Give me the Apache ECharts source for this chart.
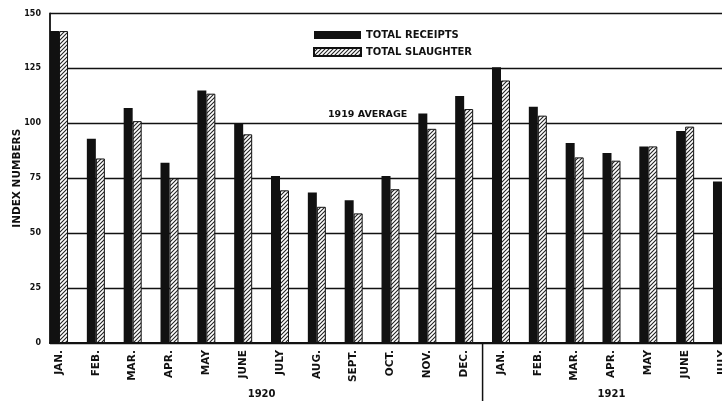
<!DOCTYPE html>
<html><head><meta charset="utf-8">
<script src="https://cdn.jsdelivr.net/npm/echarts@6/dist/echarts.min.js"></script>
<style>html,body{margin:0;padding:0;background:#fff}#c{width:722px;height:401px}</style>
</head><body><div id="c"></div>
<script>
const months = ['JAN.','FEB.','MAR.','APR.','MAY','JUNE','JULY','AUG.','SEPT.','OCT.','NOV.','DEC.','JAN.','FEB.','MAR.','APR.','MAY','JUNE','JULY'];
const years = ['1920','1921'];
const yearSpans = [[0,11],[12,18]];
const receipts = [142,93,107,82,115,100,76,68.5,65,76,104.5,112.5,125.5,107.5,91,86.5,89.5,96.5,73.5];
const slaughter = [142,84,101,75,113.5,95,69.5,62,59,70,97.5,106.5,119.5,103.5,84.5,83,89.5,98.5,null];
const yTicks = [0,25,50,75,100,125,150];
const averageValue = 100;
const averageLabel = '1919 AVERAGE';
const averageSpan = [8,9];

const FONT = 'DejaVu Sans';
const INK = '#111';

const pc = document.createElement('canvas'); pc.width = 4; pc.height = 4;
const g = pc.getContext('2d');
g.fillStyle = '#fff'; g.fillRect(0,0,4,4);
g.strokeStyle = '#222'; g.lineWidth = 1.1;
g.beginPath();
g.moveTo(0,4); g.lineTo(4,0);
g.moveTo(-1,1); g.lineTo(1,-1);
g.moveTo(3,5); g.lineTo(5,3);
g.stroke();

const chart = echarts.init(document.getElementById('c'), null, {renderer:'canvas'});
const yMin = yTicks[0], yMax = yTicks[yTicks.length-1], yInt = yTicks[1]-yTicks[0];
chart.setOption({
  animation:false,
  backgroundColor:'#fff',
  grid:[
    {left:50, top:13.5, width:700, height:329.5, containLabel:false, outerBoundsMode:'none'},
    {left:40.6, top:13.5, width:699.8, height:329.5, containLabel:false, outerBoundsMode:'none'}
  ],
  legend:{
    left:308, top:25, orient:'vertical', itemWidth:47, itemHeight:8, itemGap:7, icon:'rect',
    selectedMode:false,
    data:['TOTAL RECEIPTS','TOTAL SLAUGHTER'],
    textStyle:{fontFamily:FONT, fontWeight:'bold', fontSize:10, color:INK}
  },
  xAxis:[
    {gridIndex:0, type:'category', data:months,
     axisLine:{show:true, lineStyle:{color:INK, width:2}}, axisTick:{show:false}, axisLabel:{show:false}, splitLine:{show:false}},
    {gridIndex:1, type:'category', data:months,
     axisLine:{show:false}, axisTick:{show:false},
     axisLabel:{interval:0, rotate:90, margin:7, fontFamily:FONT, fontWeight:'bold', fontSize:10.5, color:INK}}
  ],
  yAxis:[
    {gridIndex:0, type:'value', min:yMin, max:yMax, interval:yInt,
     axisLine:{show:true, lineStyle:{color:INK, width:1.8}}, axisTick:{show:false},
     axisLabel:{margin:9, fontFamily:FONT, fontWeight:'bold', fontSize:8, color:INK},
     splitLine:{show:true, lineStyle:{color:INK, width:1.3}},
     name:'INDEX NUMBERS', nameLocation:'middle', nameGap:27, nameRotate:90, nameMoveOverlap:false,
     nameTextStyle:{fontFamily:FONT, fontWeight:'bold', fontSize:10.5, color:INK}},
    {gridIndex:1, type:'value', min:yMin, max:yMax, interval:yInt, show:false, splitLine:{show:false}}
  ],
  series:[
    {type:'bar', name:'TOTAL RECEIPTS', xAxisIndex:1, yAxisIndex:1, data:receipts, barWidth:9, barGap:'0%',
     itemStyle:{color:INK},
     markLine:{silent:true, symbol:'none', lineStyle:{color:'rgba(0,0,0,0)', width:0, type:'solid'},
       label:{show:true, position:'insideMiddleTop', distance:4, formatter:averageLabel,
              fontFamily:FONT, fontWeight:'bold', fontSize:9.5, color:INK, opacity:1},
       data:[[{coord:[averageSpan[0], averageValue]},{coord:[averageSpan[1], averageValue]}]]}},
    {type:'bar', name:'TOTAL SLAUGHTER', xAxisIndex:1, yAxisIndex:1, data:slaughter, barWidth:9, barGap:'0%',
     itemStyle:{color:{image:pc, repeat:'repeat'}, borderColor:INK, borderWidth:1}}
  ]
});

const px = i => chart.convertToPixel({xAxisIndex:1}, i);
const yBase = chart.convertToPixel({yAxisIndex:0}, 0);
const sepX = (px(yearSpans[0][1]) + px(yearSpans[1][0])) / 2;
const graphics = [{type:'line', shape:{x1:sepX, y1:yBase, x2:sepX, y2:401}, style:{stroke:INK, lineWidth:1.5}}];
years.forEach((yr, k) => {
  const cx = (px(yearSpans[k][0]) + px(yearSpans[k][1])) / 2;
  graphics.push({type:'text', x:cx, y:394, style:{text:yr, textAlign:'center', textVerticalAlign:'middle',
    font:'bold 10px "DejaVu Sans"', fill:INK}});
});
chart.setOption({graphic:graphics});
</script>
</body></html>
